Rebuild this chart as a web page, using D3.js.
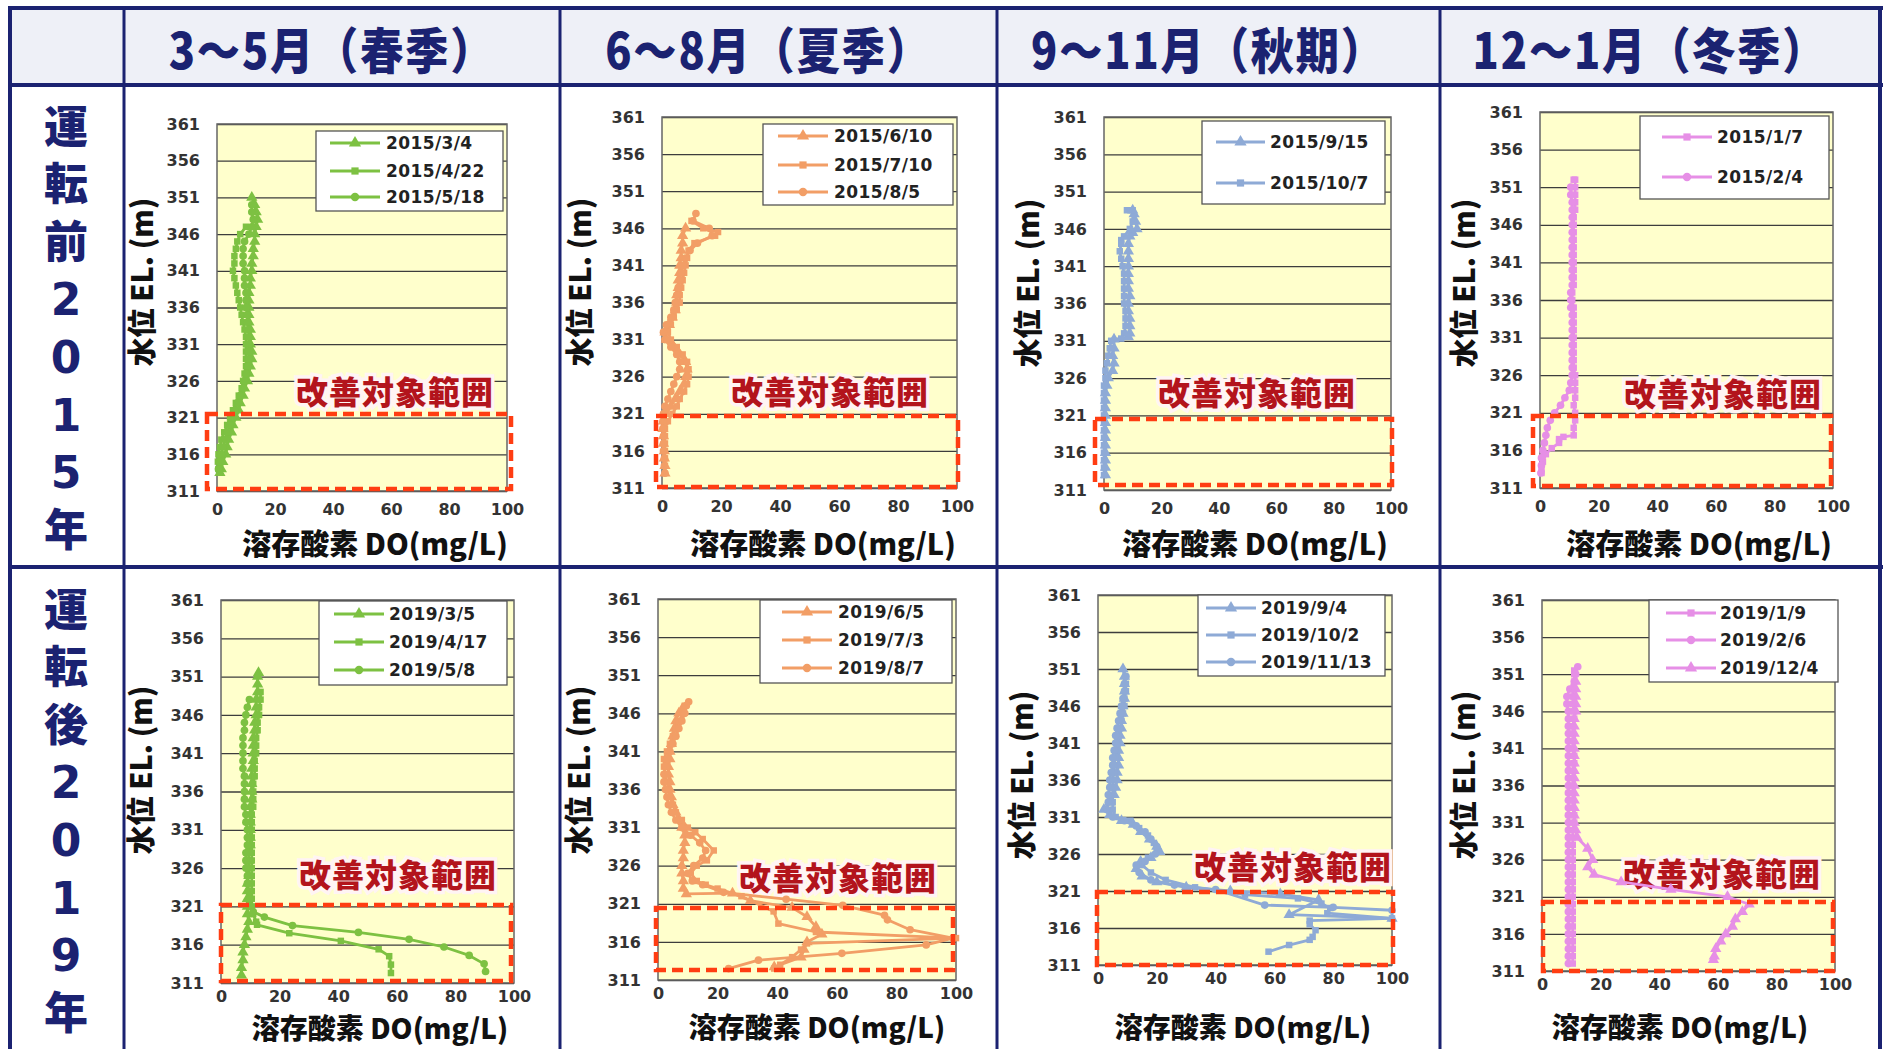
<!DOCTYPE html>
<html><head><meta charset="utf-8">
<script src="https://cdn.jsdelivr.net/npm/d3@7"></script>
<style>body{margin:0;background:#fff;overflow:hidden}</style>
</head><body><svg id="c" width="1883" height="1049"></svg>
<script>
// ---------- categories / labels ----------
const seasons = ["3〜5月（春季）", "6〜8月（夏季）", "9〜11月（秋期）", "12〜1月（冬季）"];
const periods = ["運転前2015年", "運転後2019年"];
const yTicks = [311, 316, 321, 326, 331, 336, 341, 346, 351, 356, 361];
const xTicks = [0, 20, 40, 60, 80, 100];
const xTitle = "溶存酸素 DO(mg/L)";
const yTitle = "水位 EL. (m)";
const zoneLabel = "改善対象範囲";
const seasonColors = ["#7dc142", "#f29e66", "#8eaad6", "#e68fe6"];

// ---------- series values: [DO (mg/L), elevation (m)] ----------
const s2015_3_4 = [[12,351],[13,350],[13.5,349],[14,348],[13.5,347],[13,346],[13,345],[12.5,344],[12.5,343],[12,342],[12,341],[11.5,340],[11.5,339],[11,338],[11,337],[11,336],[11,335],[11,334],[11.5,333],[11.5,332],[11.5,331],[12,330],[12,329],[11.5,328],[11,327],[10.5,326],[9.5,325],[9,324],[8,323],[7.5,322],[6.5,321],[5.5,320],[5,319],[4,318],[3.5,317],[3,316],[2,315],[1.5,314],[1,313.5]];
const s2015_4_22 = [[10,347],[8,346],[7,345],[6.5,344],[6,343],[6,342],[5.5,341],[6,340],[6.5,339],[7,338],[7.5,337],[8,336],[8.5,335],[9,334],[9.5,333],[10,332],[10,331],[10,330],[10,329],[10,328],[9.5,327],[9,326],[8.5,325],[7.5,324],[6.5,323],[5.5,322],[4.5,321],[3.5,320],[2.5,319],[1.5,318],[1,317],[0.5,316],[0.3,315],[0.5,314],[1,313.5]];
const s2015_5_18 = [[12,350],[12,349],[12.5,348],[12,347],[11,346],[9.5,345],[9,344],[9,343],[9,342],[9.5,341],[9.5,340],[9.5,339],[10,338],[10,337],[10,336],[10.5,335],[10.5,334],[11,333],[11,332],[11,331],[11,330],[11,329],[10.5,328],[10,327],[9.5,326],[9,325],[8,324],[7,323],[6,322],[5.5,321],[4.5,320],[3.5,319],[3,318],[2,317],[1.5,316],[1,315],[0.5,314]];

const s2015_6_10 = [[8,346],[7,345],[7,344],[6.5,343],[6.5,342],[6,341],[6,340],[5.5,339],[5.5,338],[5,337],[5,336],[4.5,335],[3.5,334],[2.5,333],[1,332],[1.5,331],[4,330],[6,329],[8,328],[8.5,327],[8,326],[7.5,325],[6,324],[4.5,323],[3,322],[1.5,321],[0.5,320],[0.3,319],[0.5,318],[0.5,317],[0.8,316],[0.8,315],[1,314],[1,313]];
const s2015_7_10 = [[10,347],[14,346],[19,345.5],[18,345],[11,344],[9,343],[8.5,342],[8,341],[7.5,340],[7,339],[6.5,338],[6,337],[6,336],[5,335],[4,334],[3,333],[2,332],[3,331],[5,330],[7,329],[8.5,328],[9,327],[9,326],[8.5,325],[7.5,324],[6,323],[5,322],[3.5,321],[2,320],[1,319],[1,318],[1,317],[1,316],[1,315],[1,314]];
const s2015_8_5 = [[11.5,348],[10.5,347],[16,346],[17,345],[12,344],[9.5,343],[8,342],[7,341],[6.5,340],[6,339],[5.5,338],[5,337],[4.5,336],[4,335],[3,334],[1.5,333],[0.5,332],[1,331],[3,330],[5,329],[6,328],[6,327],[5,326],[4,325],[3,324],[2,323],[1,322],[0.5,321],[0.3,320],[0.3,319],[0.5,318],[0.5,317],[0.5,316],[0.8,315],[0.8,314],[1,313]];

const s2015_9_15 = [[10,348.5],[10.5,348],[11,347],[11.5,346],[10,345.5],[9,345],[8.5,344],[8.5,343],[8.5,342],[8.5,341],[8.5,340],[8.5,339],[8.5,338],[9,337],[8.5,336],[8.5,335],[9,334],[9,333],[9,332],[8.5,331.5],[3.5,331.2],[3.5,330],[3,329],[3.5,328],[3,327],[1.5,326],[1,325],[0.5,324],[0.5,323],[0.5,322],[0.5,321],[0.5,320],[0.5,319],[0.5,318],[0.5,317],[0.5,316],[0.5,315],[0.5,314],[0.5,313]];
const s2015_10_7 = [[8,348.5],[10,348.5],[10,347],[9,346],[7,345],[6,344.5],[6,344],[5.5,343],[6,342],[6.5,341],[7,340],[7,339],[7,338],[7,337],[7,336],[7.5,335],[7.5,334],[7.5,333],[7,332],[6,331.3],[2.5,331],[2,330],[1.5,329],[1,328],[0.5,327],[0.5,326],[0,325],[0,324],[0,323],[0,322],[0,321],[0,320],[0,319],[0,318],[0,317],[0,316],[0,315],[0,314],[0,313]];

const s2015_1_7 = [[11.5,352],[12,352],[12,351],[12,350],[12,349],[12,348],[11.5,347],[11.5,346],[11.5,345],[11.5,344],[11.5,343],[11.5,342],[11.5,341],[11.5,340],[11.5,339],[11.5,338],[11,337],[11,336],[11.5,335],[11.5,334],[11.5,333],[11.5,332],[11.5,331],[11.5,330],[11.5,329],[11.5,328],[11.5,327],[12,326],[12,325],[12,324],[12,323],[11.5,322],[12,321],[12,320],[11.5,319],[11.5,318],[8,317.8],[6.5,317.5],[6.5,317],[4,316.3],[2,315.5],[1,314.5],[0.5,313.5],[0.5,313]];
const s2015_2_4 = [[10.5,351],[10.5,350],[11,349],[11,348],[11,347],[11,346],[11,345],[11,344],[11,343],[11,342],[11,341],[11,340],[11,339],[11,338],[10.5,337],[10.5,336],[10.5,335],[11,334],[11,333],[11,332],[11,331],[11,330],[11,329],[11,328],[11,327],[11,326],[10.5,325],[10,324],[8.5,323],[7,322],[5,321],[3.5,320],[2.5,319],[2,318],[1.5,317],[1,316],[0.5,315],[0.5,314],[0.3,313]];

const s2019_3_5 = [[12.8,351.5],[12.5,351],[12.5,350],[12.5,349],[12,348],[12,347],[12,346],[11.5,345],[11.5,344],[11,343],[11,342],[11,341],[11,340],[10.5,339],[10.5,338],[10.5,337],[10.5,336],[10.5,335],[10,334],[10,333],[10,332],[10,331],[10,330],[10,329],[9.5,328],[9.5,327],[9.5,326],[9.5,325],[9,324],[9,323],[9,322],[9,321],[9,320],[9.5,319],[9,318],[8.5,317],[8,316],[7.5,315],[7.5,314],[7,313],[7,312]];
const s2019_4_17 = [[13.5,349],[13.5,348],[13,347],[13,346],[12.5,345],[12.5,344],[12,343],[12,342],[12,341],[11.5,340],[11.5,339],[11.5,338],[11,337],[11,336],[11,335],[11,334],[10.5,333],[10.5,332],[10.5,331],[10.5,330],[10.5,329],[10.5,328],[10.5,327],[10.5,326],[10.5,325],[10.5,324],[10.5,323],[10.5,322],[10.5,321],[11,320],[12,319],[12.3,318.6],[23.3,317.5],[40.9,316.5],[53.8,315.4],[57.4,314.5],[58,313.4],[58,312.3]];
const s2019_5_8 = [[9.7,348],[9,347],[8.5,346],[8,345],[8,344],[7.5,343],[7.5,342],[7.5,341],[7.5,340],[7.5,339],[8,338],[8,337],[8,336],[8,335],[8,334],[8.5,333],[8.5,332],[9,331],[9,330],[9,329],[8.5,328],[8.5,327],[8.5,326],[9,325],[9,324],[9.5,323],[10,322],[10,321],[11,320.3],[14.8,319.6],[24.4,318.5],[46.9,317.6],[64.2,316.7],[76.1,315.7],[84.7,314.6],[89.8,313.5],[90.3,312.5]];

const s2019_6_5 = [[8,346.5],[7,346],[6,345],[5.5,344],[5,343],[4.5,342],[4,341],[4,340],[3.5,339],[3.5,338],[4,337],[4,336],[4.5,335],[5,334],[6,333],[7,332],[8,331],[9,330],[9,329],[8.5,328],[8.5,327],[8,326],[8,325],[8.5,324],[8.5,323],[9.5,322.3],[25,322.4],[31,321.4],[45,320.5],[50,319.3],[53,318],[55,317],[50,316],[49,315],[48,314],[39,312.7]];
const s2019_7_3 = [[9,347],[8.5,346],[7,345],[6,344],[5,343],[4,342],[3,341],[2,340],[2,339],[2.5,338],[3,337],[3.5,336],[4,335],[5,334],[6,333],[8,332],[10,331],[12.5,330.4],[15,329.5],[18.7,328],[16.4,326.7],[13,326],[11,325],[13,324],[16,323.5],[20,323],[28,322],[38.8,320],[40.4,318.4],[53,317.3],[100,316.5],[50,315.8],[48,315],[45,314],[41,313],[39,312.5]];
const s2019_8_7 = [[10.3,347.5],[9.5,347],[9,346],[8,345],[7,344],[6,343],[5,342],[4,341],[3,340],[2.5,339],[2,338],[2,337],[2.5,336],[3,335],[3.5,334],[4.5,333],[6,332],[8,331],[11,330],[14,329],[16,328],[15,327],[12,326],[10,325],[11.5,324],[15,323.5],[22,322.5],[43,321.6],[62,320.8],[76,319.5],[77,318.9],[84.6,317.6],[99,316.5],[90,315.6],[61.7,314.5],[33.7,313.6],[23.7,312.5]];

const s2019_9_4 = [[8.5,351],[9,350],[9,349],[9,348],[9,347],[8.5,346],[8.5,345],[8,344],[8,343],[7.5,342],[7.5,341],[7,340],[7,339],[7,338],[6.5,337],[6.5,336],[6,335],[5.5,334],[4,333],[2,332],[4,331.3],[8,330.5],[12,330],[14.5,329],[17.5,328],[20,327],[21,326.3],[18,325.5],[14.5,325],[13,324],[15,323],[20,322.2],[30,321.5],[45,321],[62,320.6],[75,319.8],[65,317.8],[100,317.3]];
const s2019_10_2 = [[9.5,349],[9.5,348],[9,347],[9,346],[8.5,345],[8,344],[7.5,343],[7,342],[6.5,341],[6,340],[6,339],[5.5,338],[5.5,337],[5,336],[5,335],[5,334],[5,333],[5,332],[6,331],[11,330.5],[14,329.5],[17,328.5],[19,327.5],[20,326.5],[17,325.5],[15,324.5],[18,323.5],[23,322.5],[33,321.5],[50,320.5],[68,320],[76,319.3],[79,318.7],[78,318],[100,317.3],[72,317],[72,316.5],[74,315.7],[73,314.8],[72,314.4],[65,313.7],[58,312.8]];
const s2019_11_13 = [[9.5,350],[9,349],[9,348],[8.5,347],[8,346],[7.5,345],[7,344],[6.5,343],[6,342],[6,341],[5.5,340],[5,339],[5,338],[4.5,337],[4,336],[4,335],[3.5,334],[3.5,333],[3,332],[5,331],[9,330.5],[13,329.8],[16,329],[18,328],[20,327],[19.5,326],[16,325],[13,324.5],[14,323.5],[18,322.5],[26,321.8],[40,321.2],[56.7,319.1],[80,318.8],[100,318.4]];

const s2019_1_9 = [[11,351.5],[11,351],[11,350],[10.5,349],[10.5,348],[10.5,347],[11,346],[11,345],[10.5,344],[10.5,343],[10.5,342],[10.5,341],[11,340],[11,339],[10.5,338],[10.5,337],[10.5,336],[10.5,335],[10.5,334],[10.5,333],[11,332],[11,331],[10.5,330],[10.5,329],[10.5,328],[10.5,327],[10.5,326],[10.5,325],[10.5,324],[10.5,323],[10.5,322],[10.5,321],[10.5,320],[10.5,319],[10.5,318],[10.5,317],[10.5,316],[10.5,315],[10.5,314],[10.5,313],[10.5,312]];
const s2019_2_6 = [[12.2,352],[11.5,351],[11,350],[9.5,349],[8.5,348],[8.5,347],[9,346],[9,345],[9,344],[9,343],[9,342],[9,341],[9,340],[9,339],[9,338],[9,337],[9,336],[9,335],[9,334],[9,333],[9,332],[9,331],[9,330],[9,329],[9,328],[9,327],[9,326],[9,325],[9,324],[9,323],[9,322],[9,321],[9,320],[9,319],[9,318],[9,317],[9,316],[9,315],[9,314],[9,313],[9,312]];
const s2019_12_4 = [[11.5,350],[11.5,349],[11.5,348],[11.5,347],[11.5,346],[11,345],[11,344],[11,343],[11,342],[11,341],[11,340],[11,339],[11,338],[11,337],[11,336],[11,335],[11,334],[11,333],[11,332],[11,331],[11.5,330],[12,329],[15.6,327.5],[17.3,326],[15.6,325],[17.8,324],[27,323],[44,322],[63.3,321],[70.7,320],[68.4,319],[66,318],[65,317],[62.7,316],[61,315],[59.3,314],[58.8,313],[58.5,312.5]];

// ---------- panel contents ----------
const panels = [
  {row:0, col:0, series:[{name:"2015/3/4",mk:"tri",data:s2015_3_4},{name:"2015/4/22",mk:"sq",data:s2015_4_22},{name:"2015/5/18",mk:"circ",data:s2015_5_18}]},
  {row:0, col:1, series:[{name:"2015/6/10",mk:"tri",data:s2015_6_10},{name:"2015/7/10",mk:"sq",data:s2015_7_10},{name:"2015/8/5",mk:"circ",data:s2015_8_5}]},
  {row:0, col:2, series:[{name:"2015/9/15",mk:"tri",data:s2015_9_15},{name:"2015/10/7",mk:"sq",data:s2015_10_7}]},
  {row:0, col:3, series:[{name:"2015/1/7",mk:"sq",data:s2015_1_7},{name:"2015/2/4",mk:"circ",data:s2015_2_4}]},
  {row:1, col:0, series:[{name:"2019/3/5",mk:"tri",data:s2019_3_5},{name:"2019/4/17",mk:"sq",data:s2019_4_17},{name:"2019/5/8",mk:"circ",data:s2019_5_8}]},
  {row:1, col:1, series:[{name:"2019/6/5",mk:"tri",data:s2019_6_5},{name:"2019/7/3",mk:"sq",data:s2019_7_3},{name:"2019/8/7",mk:"circ",data:s2019_8_7}]},
  {row:1, col:2, series:[{name:"2019/9/4",mk:"tri",data:s2019_9_4},{name:"2019/10/2",mk:"sq",data:s2019_10_2},{name:"2019/11/13",mk:"circ",data:s2019_11_13}]},
  {row:1, col:3, series:[{name:"2019/1/9",mk:"sq",data:s2019_1_9},{name:"2019/2/6",mk:"circ",data:s2019_2_6},{name:"2019/12/4",mk:"tri",data:s2019_12_4}]}
];

// ---------- layout (pixel positions) ----------
const layout = [
  {plot:[217,507,124,491], leg:[316,131,187,80], rows:[143,171,197], lx:[330,380], tx:386, rect:[207,414,304,75], lab:[395,390], yt:[140,282], xt:[375,542]},
  {plot:[662,957,117,488], leg:[763,124,190,81], rows:[136,165,192], lx:[778,828], tx:834, rect:[656,416,302,71], lab:[830,390], yt:[578,282], xt:[823,542]},
  {plot:[1104,1391,117,490], leg:[1202,121,183,83], rows:[142,183], lx:[1216,1265], tx:1270, rect:[1095,419,297,66], lab:[1257,391], yt:[1026,283], xt:[1255,542]},
  {plot:[1540,1833,112,488], leg:[1640,116,189,83], rows:[137,177], lx:[1662,1712], tx:1717, rect:[1533,416,298,70], lab:[1723,392], yt:[1462,283], xt:[1699,542]},
  {plot:[221,514,600,983], leg:[319,601,188,84], rows:[614,642,670], lx:[334,384], tx:389, rect:[221,905,290,76], lab:[398,873], yt:[139,770], xt:[380,1027]},
  {plot:[658,956,599,980], leg:[760,600,192,83], rows:[612,640,668], lx:[782,832], tx:838, rect:[656,908,297,62], lab:[838,876], yt:[577,770], xt:[817,1026]},
  {plot:[1098,1392,595,965], leg:[1198,595,187,81], rows:[608,635,662], lx:[1206,1256], tx:1261, rect:[1097,892,296,73], lab:[1293,865], yt:[1020,775], xt:[1243,1026]},
  {plot:[1542,1835,600,971], leg:[1649,600,189,82], rows:[613,640,668], lx:[1666,1716], tx:1720, rect:[1543,902,290,69], lab:[1722,872], yt:[1462,775], xt:[1680,1026]}
];
const colX = [10, 124, 560, 997, 1440, 1880];
const navy = "#1b2271";
const jp = "'Noto Sans CJK JP', sans-serif";
const latin = "'DejaVu Sans', 'Noto Sans CJK JP', sans-serif";

const svg = d3.select("#c");

// ---------- table frame ----------
svg.append("rect").attr("x",10).attr("y",8).attr("width",1870).attr("height",77).attr("fill","#eef0f7");
seasons.forEach((s,i)=>{
  const cx = (colX[i+1]+colX[i+2])/2 - 10;
  svg.append("text").attr("transform",`translate(${cx},47) scale(0.92,1.05)`)
    .attr("text-anchor","middle").attr("dominant-baseline","central")
    .attr("font-family",jp).attr("font-weight",900).attr("font-size",47).attr("letter-spacing",2)
    .attr("fill",navy).text(s);
});
const rowTop = [127, 610];
periods.forEach((p,r)=>{
  Array.from(p).forEach((ch,k)=>{
    svg.append("text").attr("x",66).attr("y",rowTop[r]+k*57.6)
      .attr("text-anchor","middle").attr("dominant-baseline","central")
      .attr("font-family",latin).attr("font-weight",900).attr("font-size",44)
      .attr("fill",navy).text(ch);
  });
});

// ---------- panels ----------
const sym = {tri:d3.symbolTriangle, sq:d3.symbolSquare, circ:d3.symbolCircle};
const symSize = {tri:55, sq:42, circ:46};

panels.forEach((p,i)=>{
  const L = layout[i];
  const color = seasonColors[p.col];
  const [x0,x1,y0,y1] = L.plot;
  const x = d3.scaleLinear().domain([0,100]).range([x0,x1]);
  const y = d3.scaleLinear().domain([311,361]).range([y1,y0]);
  const g = svg.append("g");

  g.append("rect").attr("x",x0).attr("y",y0).attr("width",x1-x0).attr("height",y1-y0).attr("fill","#ffffcc");
  g.append("g").attr("transform",`translate(${x0},0)`)
    .call(d3.axisLeft(y).tickValues(yTicks).tickSize(-(x1-x0)).tickFormat(""))
    .call(a=>a.select(".domain").remove())
    .call(a=>a.selectAll("line").attr("stroke","#3d3d3d").attr("stroke-width",1.3));
  g.append("rect").attr("x",x0).attr("y",y0).attr("width",x1-x0).attr("height",y1-y0)
    .attr("fill","none").attr("stroke","#666").attr("stroke-width",1.5);
  g.append("g").attr("transform",`translate(${x0-17},0)`)
    .call(d3.axisLeft(y).tickValues(yTicks).tickSize(0).tickPadding(0))
    .call(a=>a.select(".domain").remove())
    .call(a=>a.selectAll("text").attr("font-family",latin).attr("font-weight","bold").attr("font-size",16).attr("fill","#333"));
  g.append("g").attr("transform",`translate(0,${y1+(p.row===0?13:8)})`)
    .call(d3.axisBottom(x).tickValues(xTicks).tickSize(0).tickPadding(0))
    .call(a=>a.select(".domain").remove())
    .call(a=>a.selectAll("text").attr("font-family",latin).attr("font-weight","bold").attr("font-size",16).attr("fill","#333"));

  g.append("text").attr("x",L.lab[0]).attr("y",L.lab[1]).attr("text-anchor","middle").attr("dominant-baseline","central")
    .attr("font-family",jp).attr("font-weight",900).attr("font-size",32)
    .attr("fill","#b3141c").attr("stroke","#fff4f4").attr("stroke-width",7).attr("paint-order","stroke")
    .attr("letter-spacing",1).text(zoneLabel);

  const line = d3.line().x(d=>x(d[0])).y(d=>y(d[1]));
  p.series.forEach(s=>{
    g.append("path").datum(s.data).attr("d",line).attr("fill","none").attr("stroke",color).attr("stroke-width",2.8).attr("stroke-linejoin","round");
    g.append("g").selectAll("path").data(s.data).join("path")
      .attr("transform",d=>`translate(${x(d[0])},${y(d[1])})`)
      .attr("d",d3.symbol(sym[s.mk],symSize[s.mk])).attr("fill",color);
  });

  g.append("rect").attr("x",L.rect[0]).attr("y",L.rect[1]).attr("width",L.rect[2]).attr("height",L.rect[3])
    .attr("fill","none").attr("stroke","#ff3d12").attr("stroke-width",4.5).attr("stroke-dasharray","11,6");

  g.append("rect").attr("x",L.leg[0]).attr("y",L.leg[1]).attr("width",L.leg[2]).attr("height",L.leg[3])
    .attr("fill","#fff").attr("stroke","#555").attr("stroke-width",1.3);
  p.series.forEach((s,k)=>{
    const ry = L.rows[k];
    g.append("line").attr("x1",L.lx[0]).attr("x2",L.lx[1]).attr("y1",ry).attr("y2",ry).attr("stroke",color).attr("stroke-width",3);
    g.append("path").attr("transform",`translate(${(L.lx[0]+L.lx[1])/2},${ry})`).attr("d",d3.symbol(sym[s.mk],symSize[s.mk]+10)).attr("fill",color);
    g.append("text").attr("x",L.tx).attr("y",ry).attr("dominant-baseline","central")
      .attr("font-family",latin).attr("font-weight","bold").attr("font-size",17).attr("letter-spacing",0.4).attr("fill","#222").text(s.name);
  });

  const tsz = p.row===0 ? 29 : 28;
  g.append("text").attr("x",L.xt[0]).attr("y",L.xt[1]).attr("text-anchor","middle").attr("dominant-baseline","central")
    .attr("font-family",jp).attr("font-weight",900).attr("font-size",tsz).attr("fill","#111").text(xTitle);
  g.append("text").attr("transform",`translate(${L.yt[0]},${L.yt[1]}) rotate(-90)`).attr("text-anchor","middle").attr("dominant-baseline","central")
    .attr("font-family",jp).attr("font-weight",900).attr("font-size",29).attr("fill","#111").text(yTitle);
});

// ---------- table rules on top ----------
const lineAttr = (sel,w)=>sel.attr("stroke",navy).attr("stroke-width",w);
lineAttr(svg.append("line").attr("x1",8).attr("x2",1883).attr("y1",8).attr("y2",8),4);
lineAttr(svg.append("line").attr("x1",8).attr("x2",1883).attr("y1",85).attr("y2",85),4);
lineAttr(svg.append("line").attr("x1",8).attr("x2",1883).attr("y1",567).attr("y2",567),4);
colX.forEach((cx,i)=>{
  lineAttr(svg.append("line").attr("x1",cx).attr("x2",cx).attr("y1",6).attr("y2",1049), (i===0||i===colX.length-1)?4:3);
});
</script></body></html>
